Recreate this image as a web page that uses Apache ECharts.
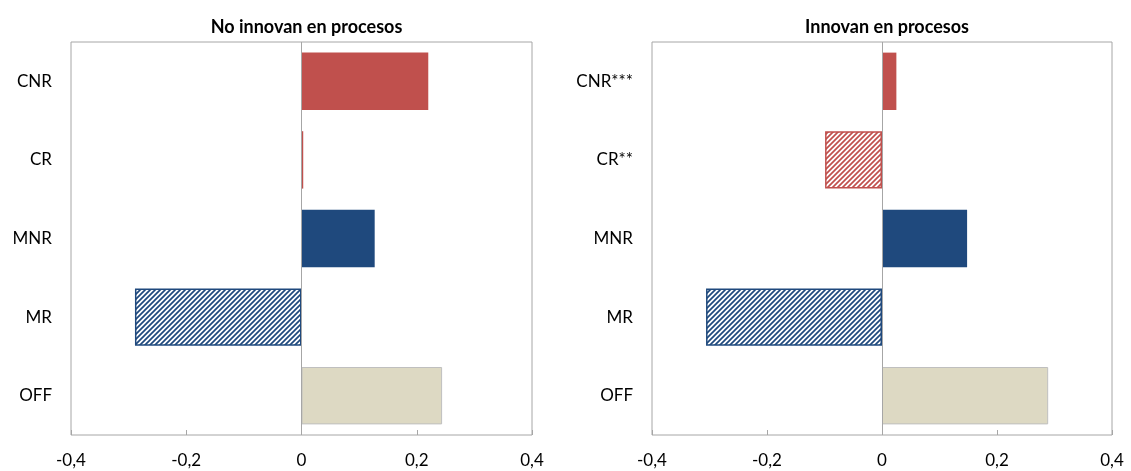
<!DOCTYPE html>
<html>
<head>
<meta charset="utf-8">
<script src="https://cdn.jsdelivr.net/npm/echarts@6/dist/echarts.min.js"></script>
<style>
html,body{margin:0;padding:0;background:#fff;}
#chart{width:1131px;height:471px;}
</style>
</head>
<body>
<div id="chart"></div>
<script>
// ---- Data ----
const titles = ['No innovan en procesos', 'Innovan en procesos'];
const categoriesLeft = ['CNR', 'CR', 'MNR', 'MR', 'OFF'];
const categoriesRight = ['CNR***', 'CR**', 'MNR', 'MR', 'OFF'];
const valuesLeft = [0.220, 0.003, 0.127, -0.289, 0.244];
const valuesRight = [0.025, -0.099, 0.148, -0.306, 0.289];
const xMin = -0.4, xMax = 0.4, xStep = 0.2;

// ---- Styling helpers ----
const RED = '#C0504D', BLUE = '#1F497D', BEIGE = '#DDD9C3';
const groupColors = [RED, RED, BLUE, BLUE, BEIGE];

function hatch(color) {
  const s = 5;
  const c = document.createElement('canvas');
  c.width = s; c.height = s;
  const g = c.getContext('2d');
  g.fillStyle = '#fff';
  g.fillRect(0, 0, s, s);
  g.strokeStyle = color;
  g.lineWidth = 1.7;
  g.beginPath();
  g.moveTo(-1, s + 1); g.lineTo(s + 1, -1);
  g.moveTo(-1, 1); g.lineTo(1, -1);
  g.moveTo(s - 1, s + 1); g.lineTo(s + 1, s - 1);
  g.stroke();
  return c;
}

function items(values) {
  return values.map((v, i) => {
    const col = groupColors[i];
    if (v < 0) {
      return { value: v, itemStyle: { color: { image: hatch(col), repeat: 'repeat' }, borderColor: col, borderWidth: 1.5 } };
    }
    if (col === BEIGE) {
      return { value: v, itemStyle: { color: col, borderColor: '#BFBFBF', borderWidth: 1 } };
    }
    return { value: v, itemStyle: { color: col } };
  });
}

function fmt(v) {
  if (Math.abs(v) < 1e-9) return '0';
  return v.toFixed(1).replace('.', ',');
}

const grids = [
  { left: 71, top: 42, width: 461, height: 393 },
  { left: 652, top: 42, width: 460, height: 393 }
];

const FONT = 'Lato, "Noto Sans", sans-serif';

const option = {
  animation: false,
  backgroundColor: '#fff',
  title: grids.map((g, i) => ({
    text: titles[i],
    left: g.left + g.width / 2,
    textAlign: 'center',
    top: 13,
    textStyle: { fontFamily: FONT, fontSize: 18, fontWeight: 'bold', color: '#000' }
  })),
  grid: grids.map(g => Object.assign({ show: true, borderColor: '#A6A6A6', borderWidth: 1, backgroundColor: 'transparent' }, g)),
  xAxis: grids.map((g, i) => ({
    type: 'value',
    gridIndex: i,
    min: xMin, max: xMax, interval: xStep,
    splitLine: { show: false },
    axisLine: { show: false },
    axisTick: { show: true, inside: true, length: 5, lineStyle: { color: '#A6A6A6' } },
    axisLabel: { formatter: fmt, fontFamily: FONT, fontSize: 17, color: '#000', margin: 17, showMinLabel: true, showMaxLabel: true }
  })),
  yAxis: [categoriesLeft, categoriesRight].map((cats, i) => ({
    type: 'category',
    gridIndex: i,
    data: cats,
    inverse: true,
    axisLine: { show: false },
    axisTick: { show: false },
    splitLine: { show: false },
    axisLabel: { fontFamily: FONT, fontSize: 17, color: '#000', margin: 19 }
  })),
  series: [valuesLeft, valuesRight].map((vals, i) => ({
    type: 'bar',
    xAxisIndex: i,
    yAxisIndex: i,
    barCategoryGap: '27%',
    data: items(vals),
    markLine: {
      silent: true,
      symbol: ['none', 'none'],
      label: { show: false },
      lineStyle: { color: '#A6A6A6', width: 1, type: 'solid' },
      data: [{ xAxis: 0 }]
    }
  }))
};

const chart = echarts.init(document.getElementById('chart'), null, { renderer: 'canvas' });
chart.setOption(option);
</script>
</body>
</html>
